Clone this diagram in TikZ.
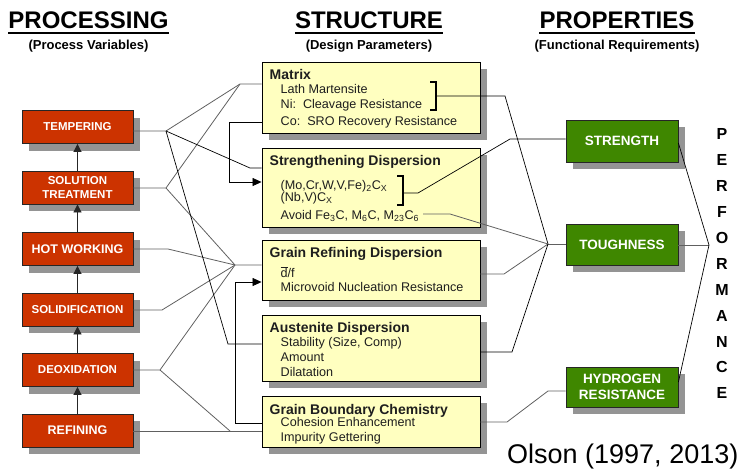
\documentclass[tikz,border=0pt]{standalone}
\usepackage{fontspec}
\setmainfont{Liberation Sans}
\usetikzlibrary{arrows.meta,shadows}

\definecolor{procred}{HTML}{CC3300}
\definecolor{propgreen}{HTML}{3F8700}
\definecolor{dpyellow}{HTML}{FFFFC0}
\definecolor{shadowgray}{HTML}{949494}
\definecolor{linkgray}{HTML}{606060}
\definecolor{txtdark}{HTML}{1E1E1E}

\tikzset{
  boxshadow/.style={general shadow={fill=shadowgray, shadow xshift=7pt, shadow yshift=-7pt}},
  procbox/.style={boxshadow, draw=black!85, line width=0.8pt, fill=procred,
    minimum width=111pt, minimum height=33pt, inner sep=0pt, text=white,
    font=\bfseries\fontsize{11.5}{13.3}\selectfont, align=center},
  procbig/.style={font=\bfseries\fontsize{12.5}{14}\selectfont},
  dpbox/.style={boxshadow, draw=black, line width=0.9pt, fill=dpyellow,
    minimum width=218pt, inner sep=0pt},
  dptitle/.style={anchor=base west, inner sep=0pt, text=txtdark,
    font=\bfseries\fontsize{14}{16}\selectfont},
  dpitem/.style={anchor=base west, inner sep=0pt, text=txtdark,
    font=\fontsize{12.6}{14}\selectfont},
  propbox/.style={boxshadow, draw=black!85, line width=0.8pt, fill=propgreen,
    minimum width=112pt, inner sep=0pt, text=white,
    font=\bfseries\fontsize{13.5}{16.6}\selectfont, align=center},
  head/.style={anchor=base, inner sep=0pt, font=\bfseries\fontsize{24}{24}\selectfont},
  subhead/.style={anchor=base, inner sep=0pt, font=\bfseries\fontsize{13}{14}\selectfont},
  uline/.style={line width=1.8pt},
  perf/.style={inner sep=0pt, font=\bfseries\fontsize{16}{16}\selectfont},
  glink/.style={draw=linkgray, line width=0.8pt},
  blink/.style={draw=black, line width=0.7pt},
  feed/.style={blink, -{Triangle[length=9pt,width=8pt]}},
  upar/.style={draw=black!85, line width=0.8pt, -{Triangle[length=8pt,width=8pt]}},
  bracket/.style={draw=black, line width=1.4pt},
}

\begin{document}
\begin{tikzpicture}[x=1pt,y=-1pt]
\useasboundingbox (0,0) rectangle (745,472);

% column headings
\node[head] (hproc) at (88.5,28) {PROCESSING};
\draw[uline] ([yshift=-5pt]hproc.base west) -- ([yshift=-5pt]hproc.base east);
\node[subhead] (sproc) at (88.5,49.5) {(Process Variables)};
\node[head] (hstru) at (369,28) {STRUCTURE};
\draw[uline] ([yshift=-5pt]hstru.base west) -- ([yshift=-5pt]hstru.base east);
\node[subhead] (sstru) at (369,49.5) {(Design Parameters)};
\node[head] (hprop) at (617,28) {PROPERTIES};
\draw[uline] ([yshift=-5pt]hprop.base west) -- ([yshift=-5pt]hprop.base east);
\node[subhead] (sprop) at (617,49.5) {(Functional Requirements)};

% processing chain
\node[procbox] (tem) at (77.5,127) {TEMPERING};
\node[procbox] (sol) at (77.5,187.5) {SOLUTION\\TREATMENT};
\node[procbox, procbig] (hot) at (77.5,249) {HOT WORKING};
\node[procbox] (sdf) at (77.5,309.5) {SOLIDIFICATION};
\node[procbox] (dox) at (77.5,370) {DEOXIDATION};
\node[procbox, procbig] (ref) at (77.5,430.5) {REFINING};
\foreach \lo/\hi in {sol/tem, hot/sol, sdf/hot, dox/sdf, ref/dox}
  \draw[upar] (\lo.north) -- (\hi.south);

% structure / design parameters
\node[dpbox, minimum height=71pt] (mat) at (371,97.5) {};
\node[dpbox, minimum height=79pt] (str) at (371,187.5) {};
\node[dpbox, minimum height=60pt] (grd) at (371,270) {};
\node[dpbox, minimum height=66pt] (aus) at (371,348) {};
\node[dpbox, minimum height=51pt] (gbc) at (371,421.5) {};

\node[dptitle] (matT) at (269.5,79) {Matrix};
\node[dpitem] (mat1) at (280.5,93.7) {Lath Martensite};
\node[dpitem] (mat2) at (280.5,108.4) {Ni:\ \ Cleavage Resistance};
\node[dpitem] (mat3) at (280.5,125) {Co:\ \ SRO Recovery Resistance};
\draw[bracket] (430,82) -- (436,82) -- (436,110) -- (430,110);
\coordinate (mbr) at (436,96);

\node[dptitle] (strT) at (269.5,165) {Strengthening Dispersion};
\node[dpitem] (str1) at (280.5,189.5) {(Mo,Cr,W,V,Fe)\textsubscript{2}C\textsubscript{X}};
\node[dpitem] (str2) at (280.5,201.5) {(Nb,V)C\textsubscript{X}};
\node[dpitem] (str3) at (280.5,219.5) {Avoid Fe\textsubscript{3}C, M\textsubscript{6}C, M\textsubscript{23}C\textsubscript{6}};
\draw[bracket] (397,176) -- (403,176) -- (403,205) -- (397,205);
\coordinate (sbr) at (403,193);

\node[dptitle] (grdT) at (269.5,257) {Grain Refining Dispersion};
\node[dpitem] (grd1) at (280.5,277.5) {$\overline{\mbox{d}}$/f};
\node[dpitem] (grd2) at (280.5,291.5) {Microvoid Nucleation Resistance};

\node[dptitle] (ausT) at (269.5,332) {Austenite Dispersion};
\node[dpitem] (aus1) at (280.5,346.5) {Stability (Size, Comp)};
\node[dpitem] (aus2) at (280.5,361.5) {Amount};
\node[dpitem] (aus3) at (280.5,376.5) {Dilatation};

\node[dptitle] (gbcT) at (269.5,414) {Grain Boundary Chemistry};
\node[dpitem] (gbc1) at (280.5,426.5) {Cohesion Enhancement};
\node[dpitem] (gbc2) at (280.5,441.5) {Impurity Gettering};

% properties
\node[propbox, minimum height=42pt] (stg) at (622,141) {STRENGTH};
\node[propbox, minimum height=41pt] (tgh) at (622,244.5) {TOUGHNESS};
\node[propbox, minimum height=40pt] (hyd) at (622,387) {HYDROGEN\\RESISTANCE};

% performance column
\foreach \c [count=\i from 0] in {P,E,R,F,O,R,M,A,N,C,E}
  \node[perf] (perf\i) at (722,{134.3+25.9*\i}) {\c};

\node[anchor=base west, inner sep=0pt, font=\fontsize{27}{30}\selectfont] (cite) at (507,463.5) {Olson (1997, 2013)};

% junction points, processing -> structure
\coordinate (jA) at (166,131);
\coordinate (jS) at (166,188);
\coordinate (jM) at (240,84);
\coordinate (jG) at (235,265);
\coordinate (jD) at (160,370);
\coordinate (jB) at (230,431);
\coordinate (jSt) at (250,168);
\coordinate (jAu) at (228,344);
\coordinate (hH) at (168,249);
\coordinate (sS) at (162,310);
\coordinate (fbM1) at (229,122);
\coordinate (fbM2) at (229,182);
\coordinate (fbG1) at (235,423);
\coordinate (fbG2) at (235,282);

\draw[glink] (tem.east|-jA) -- (jA) -- (jM) -- (mat.west|-jM);
\draw[glink] (sol.east|-jS) -- (jS) -- (jM);
\draw[glink] (jS) -- (jG) -- (grd.west|-jG);
\draw[glink] (hot.east) -- (hH) -- (jG);
\draw[glink] (sdf.east|-sS) -- (sS) -- (jG);
\draw[glink] (dox.east|-jD) -- (jD) -- (jG);
\draw[glink] (jD) -- (jB);
\draw[glink] (ref.east|-jB) -- (gbc.west|-jB);
\draw[blink] (jA) -- (jSt) -- (str.west|-jSt);
\draw[blink] (jA) -- (jAu) -- (aus.west|-jAu);
\draw[feed] (mat.west|-fbM1) -- (fbM1) -- (fbM2) -- (str.west|-fbM2);
\draw[feed] (gbc.west|-fbG1) -- (fbG1) -- (fbG2) -- (grd.west|-fbG2);

% junction points, structure -> properties -> performance
\coordinate (jT) at (548,244);
\coordinate (mR) at (505,96);
\coordinate (sb1) at (418,193);
\coordinate (sb2) at (510,139);
\coordinate (av1) at (423,214);
\coordinate (av2) at (450,214);
\coordinate (gR) at (504,274);
\coordinate (aR) at (512,352);
\coordinate (cR) at (507,422);
\coordinate (cR2) at (548,391);
\coordinate (jP) at (709,245);

\draw[blink] (mbr) -- (mR) -- (jT);
\draw[glink] (jT) -- (tgh.west|-jT);
\draw[blink] (sbr) -- (sb1) -- (sb2) -- (stg.west|-sb2);
\draw[glink] (av1) -- (av2) -- (jT);
\draw[glink] (grd.east|-gR) -- (gR) -- (jT);
\draw[blink] (aus.east|-aR) -- (aR) -- (jT);
\draw[glink] (gbc.east|-cR) -- (cR) -- (cR2) -- (hyd.west|-cR2);
\draw[blink] ([yshift=-2pt]stg.east) -- (jP);
\draw[glink] (tgh.east|-jP) -- (jP);
\draw[blink] ([yshift=5pt]hyd.east) -- (jP);
\end{tikzpicture}
\end{document}
